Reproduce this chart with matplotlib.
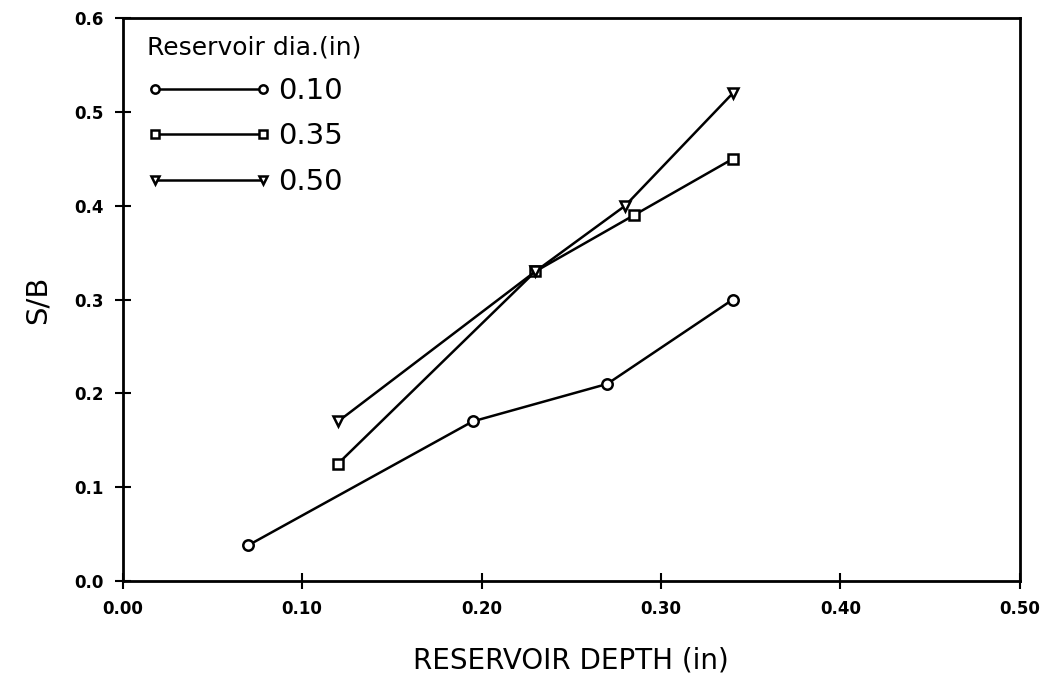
import matplotlib
matplotlib.use("Agg")
import matplotlib.pyplot as plt

x_010 = [0.07, 0.195, 0.27, 0.34]
y_010 = [0.038, 0.17, 0.21, 0.30]
x_035 = [0.12, 0.23, 0.285, 0.34]
y_035 = [0.125, 0.33, 0.39, 0.45]
x_050 = [0.12, 0.23, 0.28, 0.34]
y_050 = [0.17, 0.33, 0.40, 0.52]
labels = ["0.10", "0.35", "0.50"]
xticks = [0.0, 0.1, 0.2, 0.3, 0.4, 0.5]
yticks = [0.0, 0.1, 0.2, 0.3, 0.4, 0.5, 0.6]

fig = plt.figure(figsize=(10.58, 6.99), dpi=100)
ax = fig.add_axes([0.116, 0.169, 0.848, 0.805])

kw = dict(color="black", lw=1.8, markerfacecolor="white", markeredgecolor="black",
          markeredgewidth=1.8, markersize=7.5)
ax.plot(x_010, y_010, marker="o", label=labels[0], **kw)
ax.plot(x_035, y_035, marker="s", label=labels[1], **kw)
ax.plot(x_050, y_050, marker="v", label=labels[2], **kw)

ax.set_xlim(0, 0.5)
ax.set_ylim(0, 0.6)
ax.set_xticks(xticks)
ax.set_xticklabels([f"{v:.2f}" for v in xticks], fontweight="bold", fontsize=12)
ax.set_yticks(yticks)
ax.set_yticklabels([f"{v:.1f}" for v in yticks], fontweight="bold", fontsize=12)
ax.tick_params(direction="inout", length=12, width=1.5, pad=8)
for s in ax.spines.values():
    s.set_linewidth(2.0)

ax.set_xlabel("RESERVOIR DEPTH (in)", fontsize=20, labelpad=20)
ax.set_ylabel("S/B", fontsize=21, labelpad=16)

leg = ax.legend(title="Reservoir dia.(in)", loc="upper left", frameon=False,
                bbox_to_anchor=(0.012, 0.993),
                numpoints=2, fontsize=21, title_fontsize=18, handlelength=4.3,
                handletextpad=0.2, borderaxespad=0.2, borderpad=0.25,
                labelspacing=0.6, markerscale=0.8)
leg._legend_box.align = "left"

fig.savefig("out.png", dpi=100)
